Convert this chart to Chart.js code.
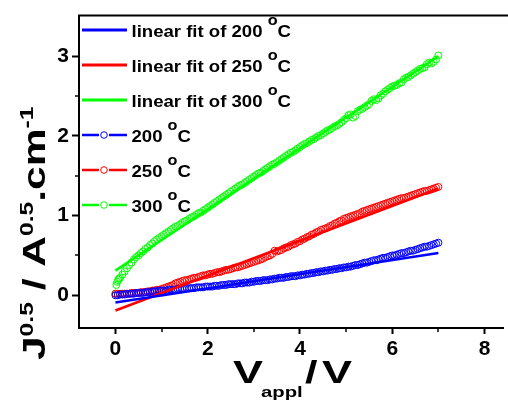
<!DOCTYPE html>
<html>
<head>
<meta charset="utf-8">
<script src="https://cdn.jsdelivr.net/npm/chart.js@4.4.1/dist/chart.umd.min.js"></script>
<style>
html,body{margin:0;padding:0;background:#fff;overflow:hidden;}
canvas{display:block;}
</style>
</head>
<body>
<canvas id="c" width="508" height="401"></canvas>
<script>
// ---- data ----
const volts = [0.00,0.05,0.10,0.15,0.20,0.25,0.30,0.35,0.40,0.45,0.50,0.55,0.60,0.65,0.70,0.75,0.80,0.85,0.90,0.95,
  1.00,1.05,1.10,1.15,1.20,1.25,1.30,1.35,1.40,1.45,1.50,1.55,1.60,1.65,1.70,1.75,1.80,1.85,1.90,1.95,
  2.00,2.05,2.10,2.15,2.20,2.25,2.30,2.35,2.40,2.45,2.50,2.55,2.60,2.65,2.70,2.75,2.80,2.85,2.90,2.95,
  3.00,3.05,3.10,3.15,3.20,3.25,3.30,3.35,3.40,3.45,3.50,3.55,3.60,3.65,3.70,3.75,3.80,3.85,3.90,3.95,
  4.00,4.05,4.10,4.15,4.20,4.25,4.30,4.35,4.40,4.45,4.50,4.55,4.60,4.65,4.70,4.75,4.80,4.85,4.90,4.95,
  5.00,5.05,5.10,5.15,5.20,5.25,5.30,5.35,5.40,5.45,5.50,5.55,5.60,5.65,5.70,5.75,5.80,5.85,5.90,5.95,
  6.00,6.05,6.10,6.15,6.20,6.25,6.30,6.35,6.40,6.45,6.50,6.55,6.60,6.65,6.70,6.75,6.80,6.85,6.90,6.95,
  7.00];
const j200 = [0.00,0.00,0.01,0.01,0.01,0.02,0.02,0.02,0.02,0.03,0.03,0.03,0.03,0.04,0.04,0.04,0.05,0.05,0.05,0.06,
  0.06,0.06,0.06,0.07,0.07,0.07,0.07,0.08,0.08,0.08,0.08,0.09,0.09,0.09,0.09,0.10,0.10,0.10,0.10,0.11,
  0.11,0.11,0.11,0.12,0.12,0.12,0.13,0.13,0.13,0.14,0.14,0.14,0.14,0.15,0.15,0.15,0.16,0.16,0.16,0.17,
  0.17,0.18,0.18,0.18,0.19,0.19,0.19,0.20,0.20,0.21,0.21,0.22,0.22,0.22,0.23,0.23,0.24,0.24,0.24,0.25,
  0.25,0.26,0.26,0.27,0.27,0.28,0.28,0.29,0.29,0.30,0.30,0.31,0.31,0.32,0.32,0.33,0.33,0.34,0.34,0.35,
  0.35,0.36,0.36,0.37,0.38,0.38,0.39,0.40,0.41,0.41,0.42,0.43,0.44,0.44,0.45,0.46,0.47,0.47,0.48,0.49,
  0.50,0.50,0.51,0.52,0.53,0.53,0.54,0.55,0.56,0.56,0.57,0.58,0.59,0.60,0.61,0.61,0.62,0.63,0.64,0.65,
  0.66];
const j250 = [0.02,0.02,0.02,0.02,0.02,0.02,0.02,0.03,0.03,0.03,0.03,0.04,0.04,0.04,0.05,0.05,0.06,0.06,0.07,0.07,
  0.08,0.09,0.10,0.11,0.12,0.13,0.15,0.16,0.17,0.18,0.19,0.19,0.20,0.21,0.22,0.22,0.23,0.24,0.25,0.25,
  0.26,0.27,0.27,0.28,0.29,0.29,0.30,0.31,0.32,0.32,0.33,0.34,0.35,0.35,0.36,0.37,0.38,0.39,0.40,0.41,
  0.42,0.43,0.44,0.45,0.46,0.48,0.49,0.50,0.52,0.56,0.55,0.56,0.57,0.59,0.60,0.61,0.63,0.64,0.65,0.67,
  0.68,0.70,0.71,0.73,0.74,0.76,0.77,0.79,0.80,0.82,0.83,0.84,0.85,0.87,0.88,0.90,0.91,0.93,0.94,0.96,
  0.97,0.98,0.99,1.00,1.01,1.02,1.03,1.05,1.06,1.07,1.08,1.09,1.10,1.11,1.12,1.13,1.14,1.15,1.16,1.17,
  1.18,1.19,1.20,1.21,1.22,1.22,1.23,1.24,1.25,1.26,1.27,1.28,1.29,1.30,1.31,1.31,1.32,1.33,1.34,1.35,
  1.36];
const voltsG = [0.00,0.02,0.04,0.06,0.08,0.10,0.15,0.20,0.25,0.30,0.35,0.40,0.45,0.50,0.55,0.60,0.65,0.70,0.75,0.80,0.85,0.90,0.95,
  1.00,1.05,1.10,1.15,1.20,1.25,1.30,1.35,1.40,1.45,1.50,1.55,1.60,1.65,1.70,1.75,1.80,1.85,1.90,1.95,
  2.00,2.05,2.10,2.15,2.20,2.25,2.30,2.35,2.40,2.45,2.50,2.55,2.60,2.65,2.70,2.75,2.80,2.85,2.90,2.95,
  3.00,3.05,3.10,3.15,3.20,3.25,3.30,3.35,3.40,3.45,3.50,3.55,3.60,3.65,3.70,3.75,3.80,3.85,3.90,3.95,
  4.00,4.05,4.10,4.15,4.20,4.25,4.30,4.35,4.40,4.45,4.50,4.55,4.60,4.65,4.70,4.75,4.80,4.85,4.90,4.95,
  5.00,5.05,5.10,5.15,5.20,5.25,5.30,5.35,5.40,5.45,5.50,5.55,5.60,5.65,5.70,5.75,5.80,5.85,5.90,5.95,
  6.00,6.05,6.10,6.15,6.20,6.25,6.30,6.35,6.40,6.45,6.50,6.55,6.60,6.65,6.70,6.75,6.80,6.85,6.90,6.95,
  7.00];
const j300 = [0.02,0.13,0.17,0.19,0.21,0.22,0.26,0.30,0.34,0.38,0.41,0.45,0.48,0.50,0.53,0.55,0.58,0.60,0.63,0.65,0.68,0.70,0.72,
  0.74,0.76,0.78,0.80,0.82,0.84,0.86,0.87,0.89,0.91,0.93,0.94,0.96,0.98,0.99,1.01,1.03,1.04,1.06,1.08,
  1.10,1.12,1.14,1.16,1.18,1.20,1.22,1.24,1.26,1.28,1.30,1.32,1.34,1.36,1.38,1.39,1.41,1.43,1.45,1.47,
  1.49,1.51,1.53,1.54,1.56,1.58,1.60,1.62,1.64,1.65,1.67,1.69,1.71,1.73,1.75,1.77,1.79,1.80,1.82,1.84,
  1.86,1.88,1.90,1.91,1.93,1.95,1.96,1.98,2.00,2.01,2.03,2.05,2.07,2.08,2.10,2.12,2.13,2.15,2.17,2.20,
  2.22,2.26,2.27,2.23,2.25,2.31,2.33,2.34,2.36,2.38,2.40,2.44,2.46,2.45,2.47,2.51,2.53,2.56,2.58,2.60,
  2.62,2.63,2.64,2.66,2.67,2.71,2.73,2.74,2.76,2.78,2.80,2.82,2.84,2.85,2.86,2.90,2.92,2.91,2.93,2.96,
  3.01];
const fitV = [0, 7];
const fit200 = [-0.09, 0.53];
const fit250 = [-0.19, 1.34];
const fit300 = [0.31, 3.00];
const labels = ["linear fit of 200 °C","linear fit of 250 °C","linear fit of 300 °C","200 °C","250 °C","300 °C"];
const xTicks = [0,2,4,6,8];
const xMinor = [1,3,5,7];
const yTicks = [0,1,2,3];
const yMinor = [0.5,1.5,2.5];

const BLUE = '#0000ff', RED = '#ff0000', GREEN = '#00ff00';
const FONT = "'Liberation Sans', Arial, Helvetica, sans-serif";

function pts(xs, ys){ return xs.map((x,i)=>({x:x, y:ys[i]})); }

function fitDs(label, xs, ys, color){
  return {type:'line', label, data: pts(xs,ys), borderColor: color, borderWidth: 2.5,
    pointRadius: 0, fill:false, tension:0, isFit:true};
}
function dataDs(label, xs, ys, color){
  return {type:'scatter', label, data: pts(xs,ys), borderColor: color,
    backgroundColor:'rgba(255,255,255,0)', pointBorderColor: color,
    pointBackgroundColor:'rgba(255,255,255,0)', pointRadius: 3.5, pointBorderWidth: 1,
    showLine:false, isFit:false};
}

// draw text pieces; each piece: t, size, dy, and optional absolute x (in unscaled units from origin)
function drawParts(ctx, parts, sx){
  let cx = 0;
  for (const p of parts){
    if (p.x !== undefined) cx = p.x / sx;
    ctx.font = 'bold ' + p.size + 'px ' + FONT;
    ctx.fillText(p.t, cx, p.dy || 0);
    cx += ctx.measureText(p.t).width;
  }
}

const decor = {
  id:'decor',
  afterDraw(chart){
    const ctx = chart.ctx, ca = chart.chartArea;
    const xs = chart.scales.x, ys = chart.scales.y;
    ctx.save();
    ctx.strokeStyle = '#000'; ctx.lineWidth = 2;
    // top frame line
    ctx.beginPath(); ctx.moveTo(ca.left-1, ca.top); ctx.lineTo(chart.width, ca.top); ctx.stroke();
    // minor ticks
    ctx.lineWidth = 1.5;
    for (const v of xMinor){
      const p = Math.round(xs.getPixelForValue(v));
      ctx.beginPath(); ctx.moveTo(p, ca.bottom); ctx.lineTo(p, ca.bottom+4); ctx.stroke();
    }
    for (const v of yMinor){
      const p = Math.round(ys.getPixelForValue(v));
      ctx.beginPath(); ctx.moveTo(ca.left, p); ctx.lineTo(ca.left-4, p); ctx.stroke();
    }
    // legend
    ctx.fillStyle = '#000';
    ctx.textBaseline = 'alphabetic';
    chart.data.datasets.forEach((ds, i) => {
      const base = 37 + 35*i;
      const ly = base - 7;
      ctx.strokeStyle = ds.borderColor;
      if (ds.isFit){
        ctx.lineWidth = 3;
        ctx.beginPath(); ctx.moveTo(82, ly); ctx.lineTo(127, ly); ctx.stroke();
      } else {
        ctx.lineWidth = 2.5;
        ctx.beginPath(); ctx.moveTo(82, ly); ctx.lineTo(99, ly); ctx.moveTo(109, ly); ctx.lineTo(127, ly); ctx.stroke();
        ctx.lineWidth = 1;
        ctx.beginPath(); ctx.arc(104, ly, 3.3, 0, Math.PI*2); ctx.stroke();
      }
      const parts = ds.label.split('°');
      ctx.save();
      ctx.translate(131.5, base);
      ctx.scale(1.16, 1);
      ctx.fillStyle = '#000';
      drawParts(ctx, [
        {t: parts[0], size:16},
        {t: 'o', size:14, dy:-12},
        {t: parts[1], size:16}
      ], 1.16);
      ctx.restore();
    });
    // y axis title
    ctx.save();
    ctx.fillStyle = '#000';
    ctx.translate(45, 360);
    ctx.rotate(-Math.PI/2);
    ctx.scale(1.37, 1);
    drawParts(ctx, [
      {t:'J', size:31},
      {t:'0.5', size:18, dy:-12},
      {t:' / A', size:31},
      {t:'0.5', size:18, dy:-12},
      {t:'.cm', size:31},
      {t:'-1', size:18, dy:-12}
    ], 1.37);
    ctx.restore();
    // x axis title
    ctx.save();
    ctx.fillStyle = '#000';
    ctx.translate(233, 383);
    ctx.scale(1.45, 1);
    drawParts(ctx, [
      {t:'V', size:31, x:0},
      {t:'appl', size:14, dy:14, x:28},
      {t:'/', size:31, x:72},
      {t:'V', size:31, x:89}
    ], 1.45);
    ctx.restore();
    ctx.restore();
  }
};

new Chart(document.getElementById('c'), {
  data: {
    datasets: [
      fitDs(labels[0], fitV, fit200, BLUE),
      fitDs(labels[1], fitV, fit250, RED),
      fitDs(labels[2], fitV, fit300, GREEN),
      dataDs(labels[3], volts, j200, BLUE),
      dataDs(labels[4], volts, j250, RED),
      dataDs(labels[5], voltsG, j300, GREEN)
    ]
  },
  options: {
    responsive:false, animation:false, devicePixelRatio:1,
    layout:{padding:{top:12, right:0, left:0, bottom:0}},
    plugins:{legend:{display:false}, tooltip:{enabled:false}},
    scales:{
      x:{type:'linear', min:-0.79, max:8.4,
        afterBuildTicks(s){ s.ticks = xTicks.map(v=>({value:v})); },
        afterFit(s){ s.height = 73; },
        ticks:{color:'#000', font:{family:FONT, size:21, weight:'bold'}, padding:3, maxRotation:0},
        grid:{drawOnChartArea:false, tickLength:6, tickWidth:2, tickColor:'#000'},
        border:{color:'#000', width:2}
      },
      y:{type:'linear', min:-0.41, max:3.51,
        afterBuildTicks(s){ s.ticks = yTicks.map(v=>({value:v})); },
        afterFit(s){ s.width = 79; },
        ticks:{color:'#000', font:{family:FONT, size:21, weight:'bold'}, padding:3},
        grid:{drawOnChartArea:false, tickLength:7, tickWidth:2, tickColor:'#000'},
        border:{color:'#000', width:2}
      }
    }
  },
  plugins:[decor]
});
</script>
</body>
</html>
